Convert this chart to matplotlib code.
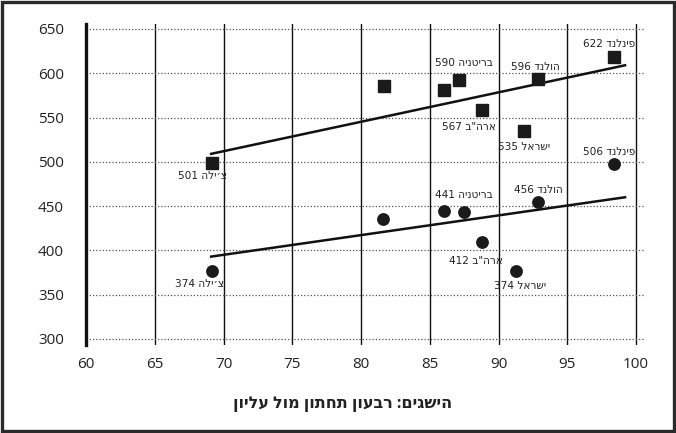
import matplotlib
matplotlib.use("Agg")
import matplotlib.pyplot as plt
import matplotlib.patches as mpatches

plt.rcParams["font.family"] = ["Open Sans", "DejaVu Sans"]

INK = "#222222"

# ── data ────────────────────────────────────────────────────────────────────
# upper quartile (squares)
top_x = [69.15, 81.65, 86.0, 87.15, 88.8, 91.85, 92.9, 98.4]
top_y = [499, 586, 581, 592, 559, 535, 594, 618]
top_labels = ["צ׳ילה 501", None, None, "בריטניה 590", "ארה\"ב 567",
              "ישראל 535", "הולנד 596", "פינלנד 622"]

# lower quartile (circles)
low_x = [69.15, 81.6, 86.0, 87.5, 88.8, 91.25, 92.9, 98.4]
low_y = [377, 436, 445, 443, 410, 377, 455, 497]
low_labels = ["צ׳ילה 374", None, None, "בריטניה 441", "ארה\"ב 412",
              "ישראל 374", "הולנד 456", "פינלנד 506"]

# trend lines (end points)
trend_x = [69.1, 99.2]
top_trend = [509, 609]
low_trend = [393, 460]

x_ticks = [60, 65, 70, 75, 80, 85, 90, 95, 100]
y_ticks = [300, 350, 400, 450, 500, 550, 600, 650]

title = "הישגים: רבעון תחתון מול עליון"

# label offsets in pixels (dx, dy), per point
top_offsets = [(-9, -13), None, None, (5, 17), (-13, -17), (0, -16), (-3, 12), (-5, 13)]
low_offsets = [(-12, -13), None, None, (0, 17), (-6, -19), (4, -15), (0, 12), (-5, 12)]


def heb(label):
    # matplotlib has no bidi: put the number first, reverse the Hebrew word
    name, num = label.rsplit(" ", 1)
    return f"{num} {name[::-1]}"


fig = plt.figure(figsize=(6.76, 4.33), dpi=100)
fig.patch.set_facecolor("white")
ax = fig.add_axes([86 / 676, 1 - 345 / 433, (645 - 86) / 676, (345 - 24) / 433])

ax.set_xlim(60, 100.65)
ax.set_ylim(293.2, 655.6)

# grid: solid verticals, dotted horizontals
for xv in x_ticks[1:]:
    ax.axvline(xv, color="#111111", lw=1.0, zorder=1)
for yv in y_ticks:
    ax.axhline(yv, color="#555555", lw=0.9, ls=(0, (1, 1.6)), zorder=1)

for s in ["top", "right", "bottom"]:
    ax.spines[s].set_visible(False)
ax.spines["left"].set_linewidth(2.4)
ax.spines["left"].set_color("#111111")

ax.set_xticks(x_ticks)
ax.set_yticks(y_ticks)
ax.tick_params(length=0, labelsize=11, labelcolor=INK)
ax.tick_params(axis="y", pad=16)
ax.tick_params(axis="x", pad=9)

ax.plot(trend_x, top_trend, color="#111111", lw=1.8, zorder=2)
ax.plot(trend_x, low_trend, color="#111111", lw=1.8, zorder=2)

ax.plot(top_x, top_y, "s", color="#1a1a1a", ms=8.6, zorder=3)
ax.plot(low_x, low_y, "o", color="#1a1a1a", ms=8.2, zorder=3)

for xs, ys, labels, offs in [(top_x, top_y, top_labels, top_offsets),
                             (low_x, low_y, low_labels, low_offsets)]:
    for x, y, lab, off in zip(xs, ys, labels, offs):
        if lab is None:
            continue
        ax.annotate(heb(lab), (x, y), xytext=off, textcoords="offset pixels",
                    ha="center", va="center", fontsize=7.6, color=INK,
                    family=["DejaVu Sans"], zorder=4)

fig.text(343 / 676, 1 - 404 / 433, title[::-1], ha="center", va="center",
         fontsize=11.5, fontweight="bold", color=INK)

# outer frame
fig.patches.append(mpatches.Rectangle((0.003, 0.004), 0.994, 0.991,
                                      transform=fig.transFigure, fill=False,
                                      edgecolor="#2a2a2a", lw=2.4))

fig.savefig("out.png", dpi=100)
